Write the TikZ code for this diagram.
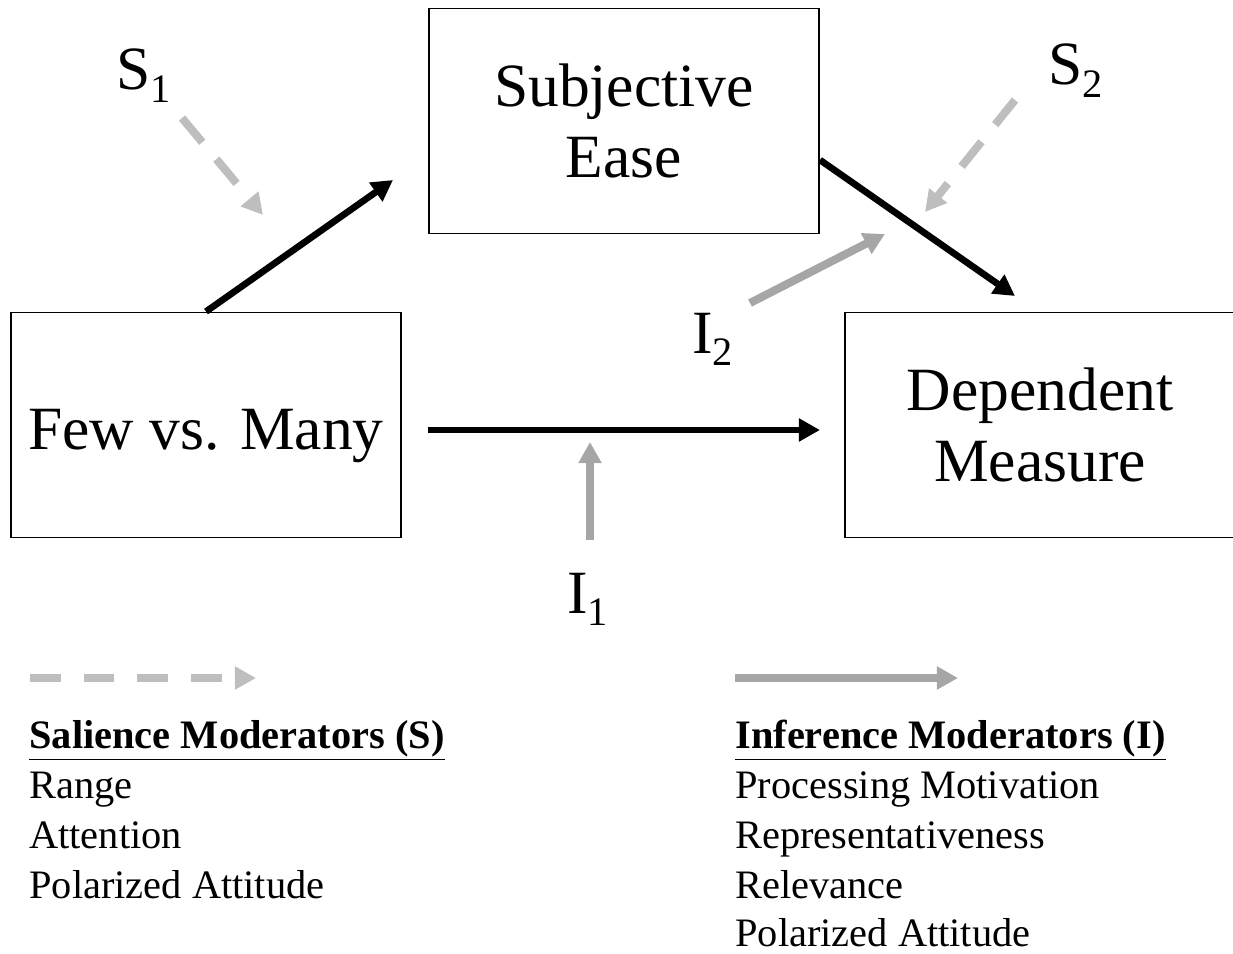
\documentclass[tikz,border=0pt]{standalone}
\usepackage{fontspec}
\setmainfont{Liberation Serif}
\usetikzlibrary{arrows.meta,positioning}
\definecolor{inferencegray}{HTML}{A6A6A6}
\definecolor{saliencegray}{HTML}{BEBEBE}
\newcommand{\lowsub}[1]{\raisebox{-7pt}{\fontsize{23}{23}\selectfont #1}}

\begin{document}
\begin{tikzpicture}[x=0.02cm, y=-0.02cm,
  box/.style={draw, line width=1.1pt, minimum width=7.8cm, minimum height=4.5cm, align=center, font=\fontsize{35}{40.5}\selectfont},
  mod label/.style={anchor=base west, inner sep=0pt, font=\fontsize{35}{40}\selectfont},
  key line/.style={anchor=base west, inner sep=0pt, font=\fontsize{23}{23}\selectfont},
  main arrow/.style={line width=3.8pt, -{Triangle[length=12pt, width=12.5pt]}},
  inference arrow/.style={draw=inferencegray, line width=4.6pt, -{Triangle[length=12pt, width=12.5pt]}},
  salience arrow/.style={draw=saliencegray, line width=4.6pt, dash pattern=on 18pt off 12.5pt, -{Triangle[length=12pt, width=12.5pt]}}]
  \useasboundingbox (0,0) rectangle (1233,953);

  % boxes
  \node[box] (ease) at (624,121) {Subjective\\Ease};
  \node[box, text height=28pt, text depth=0pt] (few) at (206,425) {Few vs. Many};
  \node[box] (dep) at (1040,425) {Dependent\\Measure};

  % moderator labels
  \node[mod label] (s1) at (116,90) {S\lowsub{1}};
  \node[mod label] (s2) at (1048,85) {S\lowsub{2}};
  \node[mod label] (i1) at (567,613) {I\lowsub{1}};
  \node[mod label] (i2) at (692,353) {I\lowsub{2}};

  % free ends
  \coordinate (c1) at (393,180);
  \coordinate (c2) at (820,160);
  \coordinate (c3) at (1015,296);
  \coordinate (c4) at (428,430);
  \coordinate (c5) at (820,430);
  \coordinate (c6) at (590,442);
  \coordinate (c7) at (590,540);
  \coordinate (c8) at (750,303);
  \coordinate (c9) at (885,234);
  \coordinate (c10) at (182,118);
  \coordinate (c11) at (263,215);
  \coordinate (c12) at (1015,100);
  \coordinate (c13) at (925,212);

  \draw[main arrow] (few.north) -- (c1);
  \draw[main arrow] (c2) -- (c3);
  \draw[main arrow] (c4) -- (c5);
  \draw[inference arrow] (c7) -- (c6);
  \draw[inference arrow] (c8) -- (c9);
  \draw[salience arrow] (c10) -- (c11);
  \draw[salience arrow] (c12) -- (c13);

  % key
  \coordinate (k1) at (30,678);
  \coordinate (k2) at (256,678);
  \coordinate (k3) at (735,678);
  \coordinate (k4) at (958,678);
  \draw[salience arrow, dash pattern=on 17.5pt off 13pt] (k1) -- (k2);
  \draw[inference arrow] (k3) -- (k4);

  \node[key line] (shead) at (29,748) {\textbf{\underline{Salience Moderators (S)}}};
  \node[key line] (s-a) at (29,798) {Range};
  \node[key line] (s-b) at (29,848) {Attention};
  \node[key line] (s-c) at (29,898) {Polarized Attitude};

  \node[key line] (ihead) at (735,748) {\textbf{\underline{Inference Moderators (I)}}};
  \node[key line] (i-a) at (735,798) {Processing Motivation};
  \node[key line] (i-b) at (735,848) {Representativeness};
  \node[key line] (i-c) at (735,898) {Relevance};
  \node[key line] (i-d) at (735,946) {Polarized Attitude};
\end{tikzpicture}
\end{document}
